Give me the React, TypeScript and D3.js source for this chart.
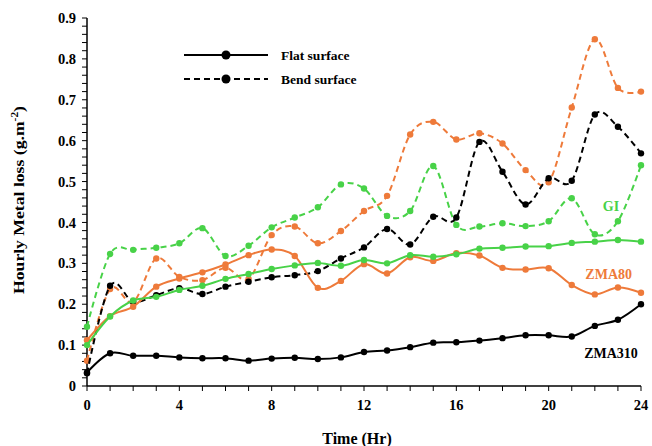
import React from "react";
import * as d3 from "d3";

const hours = d3.range(0, 25);

const zma310Flat = [0.033, 0.08, 0.074, 0.074, 0.07, 0.068, 0.068, 0.062, 0.067, 0.069, 0.066, 0.07, 0.083, 0.087, 0.095, 0.106, 0.107, 0.111, 0.117, 0.124, 0.124, 0.121, 0.147, 0.162, 0.2];
const zma310Bend = [0.031, 0.245, 0.206, 0.222, 0.239, 0.225, 0.243, 0.255, 0.266, 0.271, 0.281, 0.312, 0.339, 0.384, 0.346, 0.414, 0.412, 0.597, 0.524, 0.444, 0.508, 0.502, 0.664, 0.634, 0.569];
const zma80Flat = [0.112, 0.171, 0.194, 0.243, 0.263, 0.278, 0.297, 0.32, 0.334, 0.318, 0.24, 0.257, 0.298, 0.275, 0.315, 0.306, 0.325, 0.319, 0.289, 0.285, 0.288, 0.247, 0.224, 0.241, 0.228];
const zma80Bend = [0.062, 0.237, 0.205, 0.312, 0.267, 0.259, 0.289, 0.262, 0.369, 0.39, 0.349, 0.379, 0.428, 0.465, 0.615, 0.646, 0.603, 0.618, 0.593, 0.528, 0.498, 0.681, 0.848, 0.729, 0.72];
const giFlat = [0.1, 0.17, 0.209, 0.218, 0.235, 0.245, 0.262, 0.274, 0.286, 0.295, 0.301, 0.294, 0.308, 0.3, 0.32, 0.316, 0.322, 0.336, 0.338, 0.341, 0.342, 0.35, 0.353, 0.357, 0.353];
const giBend = [0.145, 0.323, 0.333, 0.338, 0.349, 0.386, 0.318, 0.343, 0.388, 0.412, 0.437, 0.493, 0.483, 0.416, 0.428, 0.538, 0.394, 0.39, 0.398, 0.391, 0.403, 0.459, 0.371, 0.403, 0.54];

const yTicks = [0, 0.1, 0.2, 0.3, 0.4, 0.5, 0.6, 0.7, 0.8, 0.9];
const xTicks = [0, 4, 8, 12, 16, 20, 24];

const ORANGE = "#ee7a3a";
const GREEN = "#48d248";
const BLACK = "#000000";

const series = [
  { values: giBend, color: GREEN, dashed: true },
  { values: zma80Bend, color: ORANGE, dashed: true },
  { values: zma310Bend, color: BLACK, dashed: true },
  { values: zma80Flat, color: ORANGE, dashed: false },
  { values: giFlat, color: GREEN, dashed: false },
  { values: zma310Flat, color: BLACK, dashed: false },
];

const labels = [
  { text: "GI", color: GREEN, x: 22.7, y: 0.44 },
  { text: "ZMA80", color: ORANGE, x: 22.6, y: 0.274 },
  { text: "ZMA310", color: BLACK, x: 22.7, y: 0.081 },
];

export default function App() {
  const x = d3.scaleLinear().domain([0, 24]).range([87, 641]);
  const y = d3.scaleLinear().domain([0, 0.9]).range([386, 18]);
  const line = d3
    .line<number>()
    .x((_, i) => x(hours[i]))
    .y((d) => y(d))
    .curve(d3.curveCardinal.tension(0));
  const minorY = d3.range(0, 0.9001, 0.02);
  const font = "'Liberation Serif', 'Times New Roman', serif";

  return (
    <svg
      width={652}
      height={446}
      style={{ position: "absolute", left: 0, top: 0, background: "#fff" }}
      fontFamily={font}
      fontWeight="bold"
    >
      {/* axes */}
      <line x1={x(0)} x2={x(0)} y1={y(0.9)} y2={y(0)} stroke="#000" strokeWidth={1.5} />
      <line x1={x(0)} x2={x(24)} y1={y(0)} y2={y(0)} stroke="#000" strokeWidth={1.5} />
      {minorY.map((v, i) => (
        <line key={"my" + i} x1={x(0) - 5} x2={x(0)} y1={y(v)} y2={y(v)} stroke="#000" strokeWidth={1} />
      ))}
      {hours.map((h) => (
        <line key={"mx" + h} x1={x(h)} x2={x(h)} y1={y(0)} y2={y(0) + 5} stroke="#000" strokeWidth={1} />
      ))}
      {yTicks.map((v) => (
        <text key={"yt" + v} x={x(0) - 11} y={y(v)} dy="0.35em" textAnchor="end" fontSize={14.5}>
          {v === 0 ? "0" : v.toFixed(1)}
        </text>
      ))}
      {xTicks.map((v) => (
        <text key={"xt" + v} x={x(v)} y={y(0) + 24} textAnchor="middle" fontSize={14.5}>
          {v}
        </text>
      ))}
      <text x={357} y={444} textAnchor="middle" fontSize={16}>
        Time (Hr)
      </text>
      <text
        transform="translate(24,200) rotate(-90)"
        textAnchor="middle"
        fontSize={15.5}
        textLength={188}
        lengthAdjust="spacingAndGlyphs"
      >
        Hourly Metal loss (g.m<tspan dy={-6} fontSize={10}>-2</tspan>
        <tspan dy={6}>)</tspan>
      </text>

      {/* series */}
      {series.map((s, si) => (
        <g key={"s" + si}>
          <path
            d={line(s.values) || ""}
            fill="none"
            stroke={s.color}
            strokeWidth={2}
            strokeDasharray={s.dashed ? "6,4" : undefined}
          />
          {s.values.map((v, i) => (
            <circle key={i} cx={x(hours[i])} cy={y(v)} r={3.2} fill={s.color} />
          ))}
        </g>
      ))}

      {/* annotations */}
      {labels.map((l) => (
        <text key={l.text} x={x(l.x)} y={y(l.y)} dy="0.35em" textAnchor="middle" fontSize={14} fill={l.color}>
          {l.text}
        </text>
      ))}

      {/* legend */}
      <line x1={184} x2={268} y1={55} y2={55} stroke="#000" strokeWidth={2} />
      <circle cx={226} cy={55} r={4.5} fill="#000" />
      <text x={281} y={55} dy="0.35em" fontSize={13.5}>
        Flat surface
      </text>
      <line x1={184} x2={268} y1={79} y2={79} stroke="#000" strokeWidth={2} strokeDasharray="6,4" />
      <circle cx={226} cy={79} r={4.5} fill="#000" />
      <text x={281} y={79} dy="0.35em" fontSize={13.5}>
        Bend surface
      </text>
    </svg>
  );
}
